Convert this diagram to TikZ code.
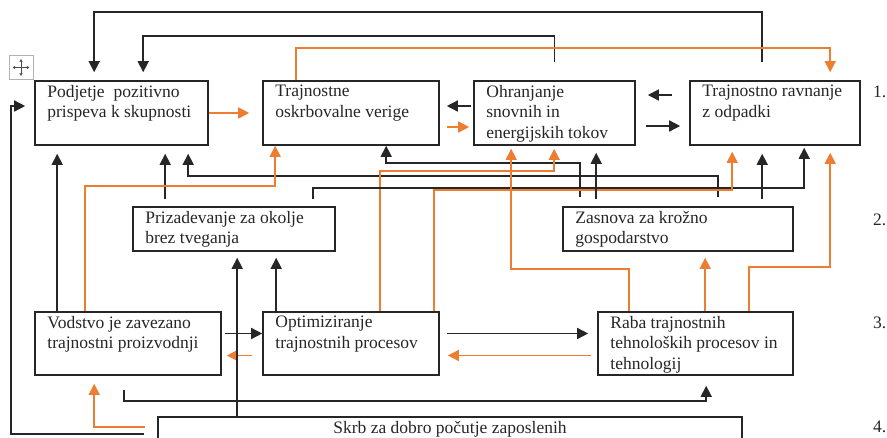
\documentclass[tikz,border=0pt]{standalone}
\usepackage{fontspec}
\setmainfont{Liberation Serif}
\usetikzlibrary{arrows.meta,calc,positioning}
\definecolor{kargray}{HTML}{262626}
\definecolor{karorange}{HTML}{ED7D31}

\begin{document}
\begin{tikzpicture}[
    x=1pt,y=-1pt,
    box/.style  = {draw=kargray, line width=1.6pt, inner sep=0pt},
    txt/.style  = {anchor=north west, align=left, text=kargray,
                   font=\fontsize{17.5}{20.3}\selectfont,
                   inner xsep=13pt, inner ysep=5pt},
    rlbl/.style = {anchor=base west, text=kargray, inner sep=0pt,
                   font=\fontsize{17.5}{20}\selectfont},
    blk/.style  = {draw=kargray, line width=1.5pt,
                   -{Triangle[length=11pt,width=11pt]}},
    org/.style  = {draw=karorange, line width=1.5pt,
                   -{Triangle[length=11pt,width=11pt]}},
  ]
  \useasboundingbox (0,0) rectangle (887,437);

  % row 1
  \node[box, minimum width=173pt, minimum height=64pt] (pod) at (121.5,113) {};
  \node[box, minimum width=176pt, minimum height=64pt] (ver) at (351,113) {};
  \node[box, minimum width=161pt, minimum height=64pt] (ohr) at (554.5,113) {};
  \node[box, minimum width=170pt, minimum height=64pt] (odp) at (775,113) {};
  % row 2
  \node[box, minimum width=202pt, minimum height=44pt] (pri) at (234,229) {};
  \node[box, minimum width=230pt, minimum height=44pt] (zas) at (678,229) {};
  % row 3
  \node[box, minimum width=186pt, minimum height=63pt] (vod) at (128,343.5) {};
  \node[box, minimum width=176pt, minimum height=63pt] (opt) at (351,343.5) {};
  \node[box, minimum width=195pt, minimum height=63pt] (rab) at (695.5,343.5) {};
  % row 4
  \node[box, minimum width=584pt, minimum height=40pt] (skr) at (450,437) {};

  \node[txt] (podt) at (pod.north west) {Podjetje\ \ pozitivno\\prispeva k skupnosti};
  \node[txt] (vert) at (ver.north west) {Trajnostne\\oskrbovalne verige};
  \node[txt] (ohrt) at (ohr.north west) {Ohranjanje\\snovnih in\\energijskih tokov};
  \node[txt] (odpt) at (odp.north west) {Trajnostno ravnanje\\z odpadki};
  \node[txt] (prit) at (pri.north west) {Prizadevanje za okolje\\brez tveganja};
  \node[txt] (zast) at (zas.north west) {Zasnova za krožno\\gospodarstvo};
  \node[txt] (vodt) at (vod.north west) {Vodstvo je zavezano\\trajnostni proizvodnji};
  \node[txt] (optt) at (opt.north west) {Optimiziranje\\trajnostnih procesov};
  \node[txt] (rabt) at (rab.north west) {Raba trajnostnih\\tehnoloških procesov in\\tehnologij};
  \node[txt, anchor=north] (skrt) at (skr.north) {Skrb za dobro počutje zaposlenih};

  \node[rlbl] (r1) at (873,97)  {1.};
  \node[rlbl] (r2) at (873,225) {2.};
  \node[rlbl] (r3) at (873,328) {3.};
  \node[rlbl] (r4) at (873,432) {4.};

  % table handle
  \node[draw=gray!60, line width=0.8pt, minimum size=24pt, inner sep=0pt] (mv) at (21,67.5) {};
  \draw[gray!60!black, line width=0.6pt, {Latex[length=2.5pt,width=3.5pt]}-{Latex[length=2.5pt,width=3.5pt]}]
       ($(mv.west)+(4,0)$) -- ($(mv.east)+(-4,0)$);
  \draw[gray!60!black, line width=0.6pt, {Latex[length=2.5pt,width=3.5pt]}-{Latex[length=2.5pt,width=3.5pt]}]
       ($(mv.north)+(0,4)$) -- ($(mv.south)+(0,-4)$);

  % returns over the top
  \draw[blk,shorten >=8pt] ($(odp.north west)+(73,-18)$) -- ++(0,-50) -| ($(pod.north west)+(60,0)$);
  \draw[blk,shorten >=8pt] ($(ohr.north)+(0,-18)$) -- ++(0,-26) -| ($(pod.north west)+(109,0)$);
  \draw[org,shorten >=8pt] ($(ver.north west)+(34,0)$) -- ++(0,-32) -| ($(odp.north west)+(141,0)$);

  % row 1 links
  \draw[org,shorten >=13pt] (pod.east) -- (ver.west);
  \draw[blk,shorten <=2pt,shorten >=7pt] ($(ohr.west)+(0,-7)$) -- ($(ver.east)+(0,-7)$);
  \draw[org,shorten <=7pt,shorten >=4pt] ($(ver.east)+(0,14)$) -- ($(ohr.west)+(0,14)$);
  \draw[blk,shorten <=17pt,shorten >=12pt] ($(odp.west)+(0,-18)$) -- ($(ohr.east)+(0,-18)$);
  \draw[blk,shorten <=10pt,shorten >=9pt] ($(ohr.east)+(0,13)$) -- ($(odp.west)+(0,13)$);

  % up into row 1
  \draw[blk,shorten >=8pt] ($(vod.north west)+(23,0)$) -- ($(pod.south west)+(23,0)$);
  \draw[blk,shorten >=8pt] ($(pri.north west)+(33,-7)$) -- ($(pod.south west)+(131,0)$);
  \draw[blk,shorten >=8pt] ($(zas.north west)+(156,-9)$) -- ++(0,-21) -| ($(pod.south west)+(154,0)$);
  \draw[blk] ($(zas.north west)+(18,-9)$) -- ++(0,-34) -| ($(ver.south west)+(124,0)$);
  \draw[org] ($(vod.north west)+(51,0)$) -- ++(0,-125) -| ($(ver.south west)+(13,0)$);
  \draw[org,shorten >=3pt] ($(opt.north west)+(118,0)$) -- ++(0,-140) -| ($(ohr.south west)+(81,0)$);
  \draw[blk,shorten >=2pt] ($(pri.north west)+(181,-7)$) -- ++(0,-11) -| ($(odp.south west)+(115,0)$);
  \draw[org,shorten >=6pt] ($(opt.north west)+(172,0)$) -- ++(0,-121) -| ($(odp.south west)+(43,0)$);
  \draw[blk,shorten >=8pt] ($(zas.north west)+(200,-7)$) -- ($(odp.south west)+(73,0)$);
  \draw[blk,shorten >=7pt] ($(zas.north west)+(34,-7)$) -- ($(ohr.south west)+(123,0)$);
  \draw[org,shorten >=3pt] ($(rab.north west)+(32,0)$) -- ++(0,-42) -| ($(ohr.south west)+(38,0)$);
  \draw[org,shorten >=6pt] ($(rab.north west)+(108,0)$) -- ($(zas.south west)+(143,0)$);
  \draw[org,shorten >=7pt] ($(rab.north west)+(152,0)$) -- ++(0,-44) -| ($(odp.south west)+(141,0)$);

  % row 3 links
  \draw[blk,shorten <=3pt] ($(vod.east)+(0,-10)$) -- ($(opt.west)+(0,-10)$);
  \draw[org,shorten <=10pt,shorten >=5pt] ($(opt.west)+(0,12)$) -- ($(vod.east)+(0,12)$);
  \draw[blk,shorten <=7pt,shorten >=9pt] ($(opt.east)+(0,-10)$) -- ($(rab.west)+(0,-10)$);
  \draw[org,shorten <=6pt,shorten >=8pt] ($(rab.west)+(0,12)$) -- ($(opt.east)+(0,12)$);
  \draw[blk,shorten >=6pt] ($(opt.north west)+(14,0)$) -- ($(pri.south west)+(144,0)$);
  \draw[blk,shorten >=6pt] ($(skr.north west)+(80,0)$) -- ($(pri.south west)+(105,0)$);
  \draw[blk,shorten >=10pt] ($(vod.south west)+(90,14)$) -- ++(0,11) -| ($(rab.south west)+(109,0)$);

  % from row 4
  \draw[org,shorten >=8pt] ($(skr.north west)+(-12,11)$) -| ($(vod.south west)+(60,0)$);
  \draw[blk,shorten >=9pt] ($(skr.north west)+(-13,18)$) -- ++(-133,0) |- ($(pod.west)+(0,-7)$);

\end{tikzpicture}
\end{document}
